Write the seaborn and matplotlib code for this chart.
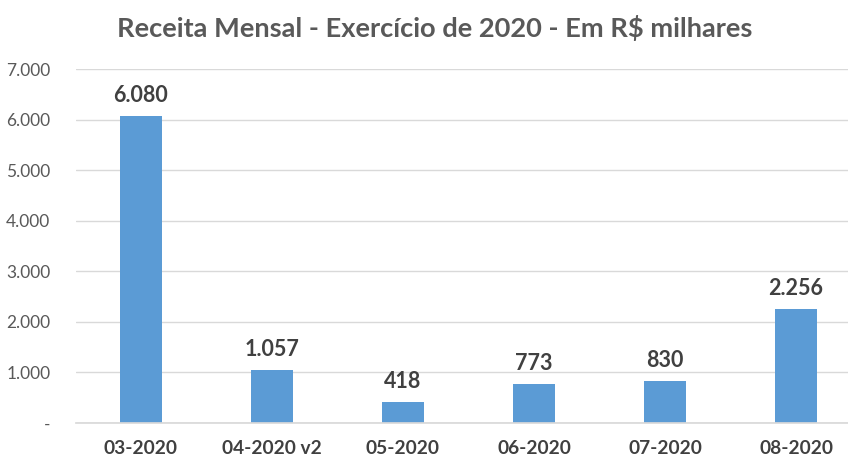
import matplotlib
matplotlib.use("Agg")
import matplotlib.pyplot as plt
import seaborn as sns
import pandas as pd
from matplotlib.ticker import FuncFormatter

categories = ["03-2020", "04-2020 v2", "05-2020", "06-2020", "07-2020", "08-2020"]
values = [6080, 1057, 418, 773, 830, 2256]
y_ticks = [0, 1000, 2000, 3000, 4000, 5000, 6000, 7000]

sns.set_theme(style="white")
plt.rcParams['font.family'] = ['Lato', 'DejaVu Sans']

df = pd.DataFrame({"mes": categories, "valor": values})

W, H = 848, 457
fig = plt.figure(figsize=(W / 100, H / 100), dpi=100)
left, right = 75.5, 861.5
bottom, top = 423, 69
ax = fig.add_axes([left / W, (H - bottom) / H, (right - left) / W, (bottom - top) / H])

sns.barplot(data=df, x="mes", y="valor", ax=ax, color="#5B9BD5", width=0.315,
            saturation=1, edgecolor="none")

def fmt(v):
    if v == 0:
        return "-"
    return f"{int(v):,}".replace(",", ".")

ax.set_ylim(0, 7000)
ax.set_yticks(y_ticks)
ax.yaxis.set_major_formatter(FuncFormatter(lambda v, p: fmt(v)))
ax.grid(axis="y", color="#D9D9D9", linewidth=1)
ax.set_axisbelow(True)
for s in ["top", "right", "left"]:
    ax.spines[s].set_visible(False)
ax.spines["bottom"].set_color("#D9D9D9")
ax.tick_params(axis="y", length=0, pad=18, labelsize=12.5, labelcolor="#595959")
ax.tick_params(axis="x", length=0, pad=12, labelsize=13.8, labelcolor="#404040")
for lbl in ax.get_xticklabels():
    lbl.set_fontweight("bold")
ax.set_xlabel("")
ax.set_ylabel("")

for c in ax.containers:
    ax.bar_label(c, labels=[fmt(v) for v in values], padding=7, fontsize=15.5,
                 fontweight="bold", color="#404040")

fig.text(435 / W, 1 - 28 / H, "Receita Mensal - Exercício de 2020 - Em R$ milhares",
         ha="center", va="center", fontsize=19.6, fontweight="bold", color="#595959")

fig.savefig("out.png", dpi=100, facecolor="white")
